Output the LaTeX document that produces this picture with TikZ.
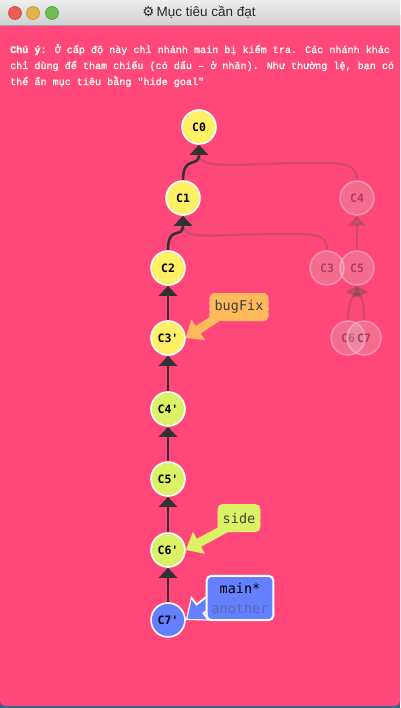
\documentclass[tikz,border=0pt]{standalone}
\usepackage{fontspec}
\setmainfont{Liberation Sans}
\newfontfamily\codefont{DejaVu Sans Mono}
\newfontfamily\hintfont[FakeBold=1.2]{Liberation Mono}
\newfontfamily\symbolfont{DejaVu Sans}
\usetikzlibrary{arrows.meta,positioning}
\definecolor{goalpink}{RGB}{255,72,121}
\definecolor{shadowblue}{RGB}{52,100,150}
\definecolor{titletop}{RGB}{238,238,238}
\definecolor{titlebot}{RGB}{208,208,208}
\definecolor{commityellow}{RGB}{255,240,102}
\definecolor{commitlime}{RGB}{220,242,100}
\definecolor{commitblue}{RGB}{100,128,255}
\definecolor{edgegray}{RGB}{50,50,50}
\definecolor{ghosttext}{RGB}{172,60,100}
\definecolor{bugorange}{RGB}{255,186,92}
\definecolor{anothertext}{RGB}{85,105,178}

\begin{document}
\begin{tikzpicture}[x=1pt, y=-1pt,
    commit/.style={circle, draw=white, line width=1.6pt, minimum size=34pt, inner sep=0pt, font=\codefont\bfseries\fontsize{11.5}{13}\selectfont},
    ghost/.style={commit, fill=white!70!gray, fill opacity=0.25, draw opacity=0.3, text opacity=1, text=ghosttext},
    edge/.style={draw=edgegray, line width=2.6pt, -{Triangle[width=18pt,length=10pt]}},
    ghostedge/.style={draw=black!70, opacity=0.25, line width=2.2pt, -{Triangle[width=18pt,length=10pt]}},
    tag/.style={rounded corners=5pt, draw=white, draw opacity=0.5, dashed, inner xsep=5pt, inner ysep=4pt, minimum height=28pt, font=\codefont\fontsize{13.5}{20}\selectfont, text=black!75},
    tagarrow/.style={line width=9pt, -{Triangle[width=24pt,length=15pt]}},
    light/.style={circle, minimum size=13pt, inner sep=0pt, line width=0.6pt}
]
    \useasboundingbox (0,0) rectangle (400,708);

    % window
    \fill[shadowblue] (0,698) rectangle (400,708);
    \fill[goalpink, rounded corners=5pt] (0,10) rectangle (400,706);
    \shade[top color=titletop, bottom color=titlebot] (0,0) rectangle (400,25);
    \draw[black!35, line width=0.6pt] (0,25) -- (400,25);
    \node[light, fill={rgb,255:red,238;green,92;blue,86}, draw={rgb,255:red,200;green,70;blue,65}] (closebtn) at (15,13) {};
    \node[light, fill={rgb,255:red,226;green,180;blue,72}, draw={rgb,255:red,190;green,145;blue,50}] (minbtn) at (33,13) {};
    \node[light, fill={rgb,255:red,112;green,190;blue,82}, draw={rgb,255:red,80;green,155;blue,60}] (maxbtn) at (52,13) {};
    \node[font=\fontsize{13.5}{15}\selectfont, text=black!85] (title) at (199,12) {{\symbolfont ⚙}\,Mục tiêu cần đạt};

    % hint
    \node[anchor=base west, inner sep=0pt, text=white, font=\hintfont\fontsize{10.1}{16}\selectfont] (hint1) at (10,53) {\textbf{Chú ý:} Ở cấp độ này chỉ nhánh main bị kiểm tra. Các nhánh khác};
    \node[anchor=base west, inner sep=0pt, text=white, font=\hintfont\fontsize{10.1}{16}\selectfont] (hint2) at (10,69) {chỉ dùng để tham chiếu (có dấu – ở nhãn). Như thường lệ, bạn có};
    \node[anchor=base west, inner sep=0pt, text=white, font=\hintfont\fontsize{10.1}{16}\selectfont] (hint3) at (10,85) {thể ẩn mục tiêu bằng "hide goal"};

    % old commits
    \node[ghost] (g4) at (357,198) {C4};
    \node[ghost] (g3) at (327,268) {C3};
    \node[ghost] (g5) at (357,268) {C5};
    \node[ghost] (g6) at (348,338) {C6};
    \node[ghost] (g7) at (364,338) {C7};

    % rebased commits
    \node[commit, fill=commityellow] (c0) at (199,127) {C0};
    \node[commit, fill=commityellow] (c1) at (183,198) {C1};
    \node[commit, fill=commityellow] (c2) at (168,268) {C2};
    \node[commit, fill=commityellow] (r3) at (168,338) {C3'};
    \node[commit, fill=commitlime] (r4) at (168,409) {C4'};
    \node[commit, fill=commitlime] (r5) at (168,479) {C5'};
    \node[commit, fill=commitlime] (r6) at (168,550) {C6'};
    \node[commit, fill=commitblue] (r7) at (168,620) {C7'};

    \draw[ghostedge] (g4.north) .. controls +(0,-16) and +(25,0) .. (320,163) .. controls (250,162) and (199,172) .. (c0.south);
    \draw[ghostedge] (g3.north) .. controls +(0,-16) and +(25,0) .. (290,234) .. controls (220,233) and (183,242) .. (c1.south);
    \draw[ghostedge] (g5) -- (g4);
    \draw[ghostedge] (g6.north) .. controls +(0,-18) and +(-5,14) .. (g5.south);
    \draw[ghostedge] (g7.north) .. controls +(0,-18) and +(5,14) .. (g5.south);

    \draw[edge] (c1.north) .. controls +(0,-26) and +(0,24) .. (c0.south);
    \draw[edge] (c2.north) .. controls +(0,-26) and +(0,24) .. (c1.south);
    \draw[edge] (r3) -- (c2);
    \draw[edge] (r4) -- (r3);
    \draw[edge] (r5) -- (r4);
    \draw[edge] (r6) -- (r5);
    \draw[edge] (r7) -- (r6);

    % branch tags
    \coordinate (bugTail) at (222,314);
    \coordinate (sideTail) at (228,527);
    \coordinate (mainTail) at (214,598);
    \draw[tagarrow, draw=bugorange] (bugTail) -- (r3.east);
    \draw[tagarrow, draw=commitlime] (sideTail) -- (r6.east);
    \draw[line width=13pt, draw=white, -{Triangle[width=30pt,length=19pt]}] (mainTail) -- (r7.east);
    \draw[tagarrow, draw=commitblue, shorten >=2pt] (mainTail) -- (r7.east);

    \node[tag, fill=bugorange] (bugFix) at (239,307) {bugFix};
    \node[tag, fill=commitlime] (side) at (239,518) {side};
    \node[tag, solid, draw opacity=1, line width=2pt, inner ysep=7pt, fill=commitblue, align=center, text=black] (main) at (240,598) {main*\\\textcolor{anothertext}{another}};
\end{tikzpicture}
\end{document}
